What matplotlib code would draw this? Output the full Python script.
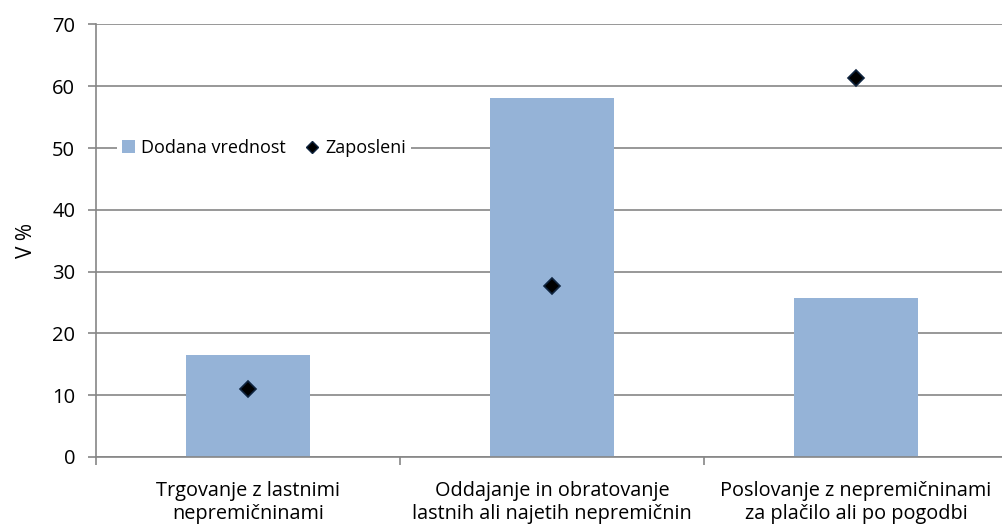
import matplotlib
matplotlib.use("Agg")
import matplotlib.pyplot as plt
from matplotlib.lines import Line2D
from matplotlib.patches import Patch

plt.rcParams['font.family'] = ['Open Sans', 'DejaVu Sans']

categories = [
    "Trgovanje z lastnimi\nnepremičninami",
    "Oddajanje in obratovanje\nlastnih ali najetih nepremičnin",
    "Poslovanje z nepremičninami\nza plačilo ali po pogodbi",
]
dodana_vrednost = [16.5, 58.1, 25.8]
zaposleni = [11.0, 27.7, 61.4]
y_ticks = [0, 10, 20, 30, 40, 50, 60, 70]

bar_color = "#95B3D7"
grid_color = "#868686"

W, H = 1003, 529
fig = plt.figure(figsize=(W / 100, H / 100), dpi=100)
ax = fig.add_axes([96 / W, 72 / H, 912 / W, 432.6 / H])

x = list(range(len(categories)))
ax.bar(x, dodana_vrednost, width=0.405, color=bar_color, zorder=2)
ax.plot(x, zaposleni, linestyle="none", marker="D", markersize=8.5,
        markerfacecolor="black", markeredgecolor="#0F243E",
        markeredgewidth=1.2, zorder=3)

ax.set_xlim(-0.5, len(categories) - 0.5)
ax.set_ylim(0, 70)
ax.set_yticks(y_ticks)
ax.yaxis.grid(True, color=grid_color, linewidth=1.2, zorder=0)
ax.set_axisbelow(True)

for side in ("top", "right"):
    ax.spines[side].set_visible(False)
for side in ("left", "bottom"):
    ax.spines[side].set_color(grid_color)
    ax.spines[side].set_linewidth(1.2)

ax.tick_params(axis="y", direction="out", length=6, width=1.2,
               color=grid_color, labelsize=14.5, pad=9)

# category labels centred, tick marks at the category boundaries
ax.set_xticks([i - 0.5 for i in range(len(categories) + 1)])
ax.set_xticklabels([])
ax.set_xticks(x, minor=True)
ax.set_xticklabels(categories, minor=True, fontsize=14.3, linespacing=1.2)
ax.tick_params(axis="x", which="major", direction="out", length=6,
               width=1.2, color=grid_color)
ax.tick_params(axis="x", which="minor", length=0, pad=17)

ax.set_ylabel("V %", fontsize=15, labelpad=11)

handles = [
    Patch(facecolor=bar_color, edgecolor="none"),
    Line2D([], [], linestyle="none", marker="D", markersize=6.5,
           markerfacecolor="black", markeredgecolor="#0F243E"),
]
leg = ax.legend(handles, ["Dodana vrednost", "Zaposleni"], ncol=2,
                loc="center left", bbox_to_anchor=(12 / 912, 50 / 70),
                frameon=True, fancybox=False, framealpha=1,
                edgecolor="none", facecolor="white", fontsize=13,
                handlelength=0.7, handleheight=0.7, handletextpad=0.35,
                columnspacing=1.1, borderpad=0.3)
leg.set_zorder(4)

fig.savefig("out.png", dpi=100, facecolor="white")
